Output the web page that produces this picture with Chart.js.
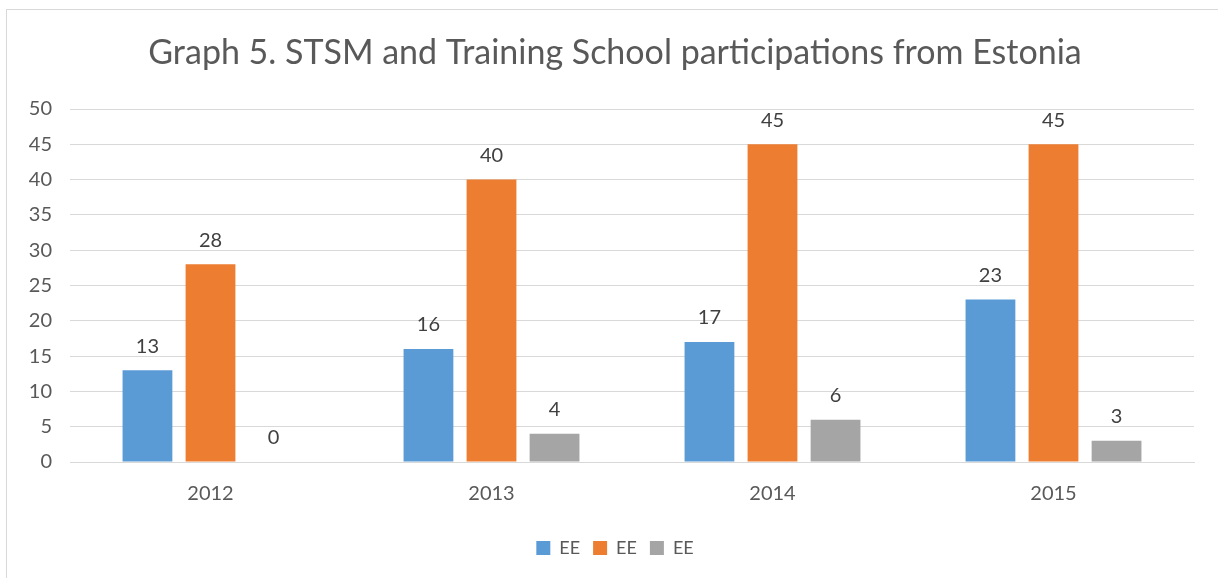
<!DOCTYPE html>
<html>
<head>
<meta charset="utf-8">
<script src="https://cdn.jsdelivr.net/npm/chart.js@4.4.0/dist/chart.umd.min.js"></script>
<style>
html,body{margin:0;padding:0;background:#fff;overflow:hidden;}
#wrap{position:absolute;left:0;top:0;width:1218px;height:578px;}
#frame{position:absolute;left:6px;top:9px;width:1240px;height:600px;border:1px solid #d9d9d9;box-sizing:border-box;pointer-events:none;}
</style>
</head>
<body>
<div id="wrap"><canvas id="c" width="1218" height="578"></canvas></div>
<div id="frame"></div>
<script>
const categories = ['2012', '2013', '2014', '2015'];
const seriesA = [13, 16, 17, 23];
const seriesB = [28, 40, 45, 45];
const seriesC = [0, 4, 6, 3];
const seriesNames = ['EE', 'EE', 'EE'];
const yTicksMax = 50;
const yTicksStep = 5;

const FONT = 'Lato, "Open Sans", sans-serif';

const labelPlugin = {
  id: 'barLabels',
  afterDatasetsDraw(chart) {
    const ctx = chart.ctx;
    ctx.save();
    ctx.font = '20px ' + FONT;
    ctx.fillStyle = '#404040';
    ctx.textAlign = 'center';
    ctx.textBaseline = 'middle';
    chart.data.datasets.forEach((ds, i) => {
      const meta = chart.getDatasetMeta(i);
      meta.data.forEach((el, j) => {
        ctx.fillText(String(ds.data[j]), el.x, el.y - 24);
      });
    });
    ctx.restore();
  }
};

new Chart(document.getElementById('c'), {
  type: 'bar',
  data: {
    labels: categories,
    datasets: [
      { label: seriesNames[0], data: seriesA, backgroundColor: '#5B9BD5' },
      { label: seriesNames[1], data: seriesB, backgroundColor: '#ED7D31' },
      { label: seriesNames[2], data: seriesC, backgroundColor: '#A5A5A5' }
    ]
  },
  options: {
    responsive: false,
    animation: false,
    events: [],
    datasets: { bar: { categoryPercentage: 0.673, barPercentage: 0.79 } },
    layout: { padding: { left: 12, right: 0, top: 20, bottom: 11 } },
    plugins: {
      title: {
        display: true,
        text: 'Graph 5. STSM and Training School participations from Estonia',
        color: '#595959',
        font: { family: FONT, size: 34, weight: 'normal' },
        padding: { top: 12.6, bottom: 35.6 }
      },
      legend: {
        position: 'bottom',
        labels: {
          color: '#595959',
          font: { family: FONT, size: 18 },
          boxWidth: 14,
          boxHeight: 14,
          padding: 13
        }
      },
      tooltip: { enabled: false }
    },
    scales: {
      x: {
        grid: { display: false, drawTicks: false },
        border: { display: true, color: '#d9d9d9' },
        ticks: { color: '#595959', font: { family: FONT, size: 20 }, padding: 20 }
      },
      y: {
        min: 0,
        max: yTicksMax,
        afterFit(scale) { scale.width = 58; },
        grid: { color: '#d9d9d9', drawTicks: false },
        border: { display: false },
        ticks: { stepSize: yTicksStep, color: '#595959', font: { family: FONT, size: 20 }, padding: 18 }
      },
      yRight: {
        position: 'right',
        min: 0,
        max: yTicksMax,
        afterFit(scale) { scale.width = 24; },
        grid: { display: false, drawTicks: false },
        border: { display: false },
        ticks: { display: false }
      }
    }
  },
  plugins: [labelPlugin]
});
</script>
</body>
</html>
